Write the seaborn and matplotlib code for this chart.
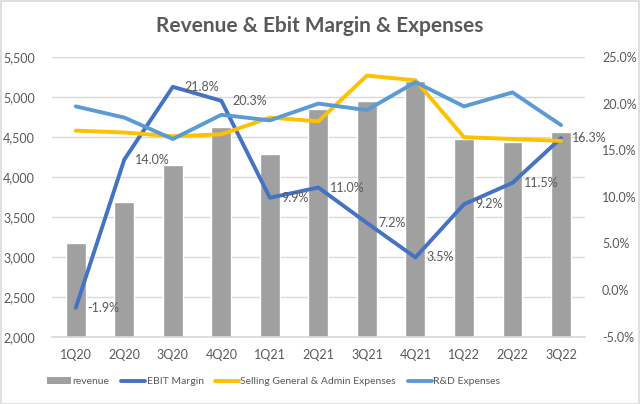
import matplotlib
matplotlib.use("Agg")
import matplotlib.pyplot as plt
import seaborn as sns
import pandas as pd
import numpy as np
from matplotlib.ticker import FuncFormatter, MultipleLocator
from matplotlib.lines import Line2D
from matplotlib.patches import Patch, Rectangle

quarters = ["1Q20", "2Q20", "3Q20", "4Q20", "1Q21", "2Q21", "3Q21", "4Q21", "1Q22", "2Q22", "3Q22"]
revenue = [3175, 3680, 4146, 4621, 4288, 4855, 4946, 5196, 4475, 4437, 4567]
ebit_margin = [-1.9, 14.0, 21.8, 20.3, 9.9, 11.0, 7.2, 3.5, 9.2, 11.5, 16.3]
sga = [17.1, 16.9, 16.5, 16.7, 18.5, 18.1, 23.0, 22.5, 16.4, 16.2, 16.0]
rnd = [19.7, 18.5, 16.2, 18.8, 18.2, 20.0, 19.3, 22.3, 19.7, 21.2, 17.7]

df = pd.DataFrame({"quarter": quarters, "revenue": revenue, "ebit": ebit_margin,
                   "sga": sga, "rnd": rnd})

sns.set_theme(style="white")
FONT = ["Lato", "DejaVu Sans"]
plt.rcParams["font.family"] = FONT
TXT = "#595959"

fig = plt.figure(figsize=(6.4, 4.04), dpi=100)
ax = fig.add_axes([0.0805, 0.1666, 0.834, 0.6924])

sns.barplot(data=df, x="quarter", y="revenue", color="#A0A0A0", width=0.41,
            saturation=1, ax=ax, zorder=2)
ax.set_ylim(2000, 5500)
ax.yaxis.set_major_locator(MultipleLocator(500))
ax.yaxis.set_major_formatter(FuncFormatter(lambda v, p: f"{v:,.0f}"))
ax.grid(axis="y", color="#D9D9D9", linewidth=1, zorder=0)
ax.set_axisbelow(True)
ax.set_xlabel("")
ax.set_ylabel("")
for s in ["top", "left", "right"]:
    ax.spines[s].set_visible(False)
ax.spines["bottom"].set_color("#D9D9D9")
ax.tick_params(axis="both", length=0, colors=TXT, labelsize=9)
ax.tick_params(axis="y", pad=12)
ax.tick_params(axis="x", pad=9)

ax2 = ax.twinx()
sns.lineplot(data=df, x="quarter", y="ebit", color="#4472C4", linewidth=2.8, ax=ax2, sort=False, zorder=3)
sns.lineplot(data=df, x="quarter", y="sga", color="#FFC000", linewidth=2.8, ax=ax2, sort=False, zorder=3)
sns.lineplot(data=df, x="quarter", y="rnd", color="#5B9BD5", linewidth=2.8, ax=ax2, sort=False, zorder=3)
ax2.set_ylim(-5, 25)
ax2.yaxis.set_major_locator(MultipleLocator(5))
ax2.yaxis.set_major_formatter(FuncFormatter(lambda v, p: f"{v:.1f}%"))
ax2.set_ylabel("")
ax2.set_xlabel("")
for s in ["top", "left", "right", "bottom"]:
    ax2.spines[s].set_visible(False)
ax2.tick_params(axis="y", length=0, colors=TXT, labelsize=9, pad=12)
ax.set_xlim(-0.5, 10.5)

for i, v in enumerate(ebit_margin):
    ax2.annotate(f"{v:.1f}%", (i, v), xytext=(8, 0), textcoords="offset points",
                 ha="left", va="center", fontsize=9, color=TXT, zorder=4)

fig.text(0.5, 0.936, "Revenue & Ebit Margin & Expenses", ha="center", va="center",
         fontsize=15, fontweight="bold", color=TXT)

handles = [Patch(facecolor="#A0A0A0", edgecolor="none"),
           Line2D([0], [0], color="#4472C4", linewidth=2.8),
           Line2D([0], [0], color="#FFC000", linewidth=2.8),
           Line2D([0], [0], color="#5B9BD5", linewidth=2.8)]
labels = ["revenue", "EBIT Margin", "Selling General & Admin Expenses", "R&D Expenses"]
leg = fig.legend(handles, labels, loc="center left", bbox_to_anchor=(0.059, 0.055), ncol=4,
                 frameon=False, fontsize=7.5, handlelength=2.3, handleheight=0.6,
                 handletextpad=0.15, columnspacing=1.1, borderpad=0.4)
for t in leg.get_texts():
    t.set_color(TXT)

fig.patches.append(Rectangle((0.001, 0.001), 0.997, 0.996, transform=fig.transFigure,
                             fill=False, edgecolor="#D9D9D9", linewidth=1.2))

fig.savefig("out.png", dpi=100, facecolor="white")
